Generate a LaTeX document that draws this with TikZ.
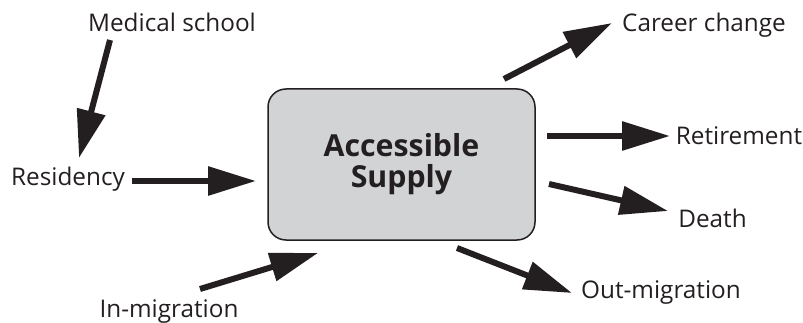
\documentclass[tikz,border=0pt]{standalone}
\usepackage{fontspec}
\setmainfont{Open Sans}
\usetikzlibrary{arrows.meta}
\definecolor{ink}{HTML}{231F20}
\definecolor{boxgray}{HTML}{D1D3D4}
\begin{document}
\begin{tikzpicture}[x=1pt,y=-1pt,
  lbl/.style={inner sep=0pt,anchor=base,text=ink,font=\fontsize{24.3}{28}\selectfont},
  stock/.style={draw=ink,line width=1.5pt,fill=boxgray,rounded corners=18pt,
    minimum width=267pt,minimum height=151pt,align=center,text=ink,
    font=\bfseries\fontsize{30.3}{31}\selectfont},
  flow/.style={draw=ink,line width=6pt,-{Triangle[length=48pt,width=28pt]}}]
\useasboundingbox (0,0) rectangle (803,323);

% central stock
\node[stock] (supply) at (401.5,164.5) {Accessible\\Supply};

% labels
\node[lbl] (med) at (172,32) {Medical school};
\node[lbl] (res) at (68,186) {Residency};
\node[lbl] (inm) at (169,317) {In-migration};
\node[lbl] (car) at (704,32) {Career change};
\node[lbl] (ret) at (739,145) {Retirement};
\node[lbl] (dea) at (712.5,228) {Death};
\node[lbl] (outm) at (661,298) {Out-migration};

% arrow ends
\coordinate (med-a) at (110,40);  \coordinate (med-b) at (79,158);
\coordinate (res-a) at (132,181); \coordinate (res-b) at (256,181);
\coordinate (inm-a) at (200,289); \coordinate (inm-b) at (318,253);
\coordinate (car-a) at (504,79);  \coordinate (car-b) at (612,23);
\coordinate (ret-a) at (547,136); \coordinate (ret-b) at (670,136);
\coordinate (dea-a) at (549,184); \coordinate (dea-b) at (668,211);
\coordinate (out-a) at (457,248); \coordinate (out-b) at (572,293);

% flows
\draw[flow] (med-a) -- (med-b);
\draw[flow] (res-a) -- (res-b);
\draw[flow] (inm-a) -- (inm-b);
\draw[flow] (car-a) -- (car-b);
\draw[flow] (ret-a) -- (ret-b);
\draw[flow] (dea-a) -- (dea-b);
\draw[flow] (out-a) -- (out-b);
\end{tikzpicture}
\end{document}
